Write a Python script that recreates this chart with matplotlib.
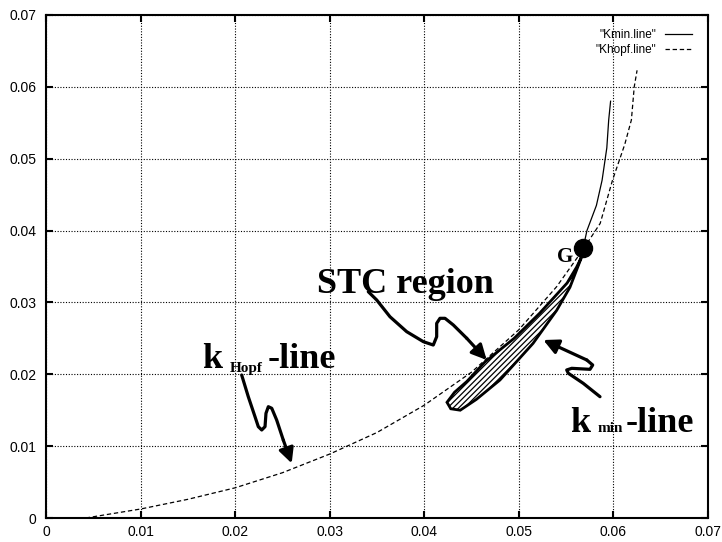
import matplotlib.pyplot as plt
from matplotlib.patches import Polygon

# Kurvendaten
khopf_x = [0.0042, 0.010, 0.015, 0.020, 0.025, 0.030, 0.035, 0.040, 0.045,
           0.050, 0.054, 0.0567, 0.0586, 0.0599, 0.0612, 0.0619, 0.0622, 0.0625]
khopf_y = [0.0000, 0.00125, 0.0026, 0.0042, 0.0063, 0.0089, 0.0119, 0.0157, 0.0203,
           0.0262, 0.0322, 0.0372, 0.0410, 0.0470, 0.0520, 0.0554, 0.0600, 0.0623]

kmin_x = [0.0445, 0.0464, 0.0495, 0.0522, 0.0551, 0.0561, 0.0567, 0.0572, 0.0582,
          0.0588, 0.0593, 0.0595, 0.0597]
kmin_y = [0.0190, 0.0217, 0.0250, 0.0285, 0.0327, 0.0349, 0.0370, 0.0400, 0.0435,
          0.0470, 0.0515, 0.0554, 0.0580]

# STC Bereich (Umriss)
stc_x = [0.0424, 0.0432, 0.0445, 0.0464, 0.0495, 0.0522, 0.0551, 0.0561, 0.0566,
         0.0554, 0.0540, 0.0515, 0.0480, 0.0455, 0.0438, 0.0428]
stc_y = [0.0161, 0.0175, 0.0190, 0.0217, 0.0250, 0.0285, 0.0327, 0.0349, 0.0362,
         0.0321, 0.0289, 0.0243, 0.0192, 0.0165, 0.0150, 0.0152]

G_x, G_y = 0.0568, 0.0376

# Pfeile
arr_stc_x = [0.03408, 0.03497, 0.03637, 0.03814, 0.03990, 0.04095, 0.04131, 0.04131,
             0.04166, 0.04219, 0.04307, 0.04449, 0.04660]
arr_stc_y = [0.03149, 0.03034, 0.02801, 0.02593, 0.02454, 0.02407, 0.02523, 0.02709,
             0.02779, 0.02779, 0.02686, 0.02501, 0.02199]
arr_min_x = [0.05858, 0.05681, 0.05523, 0.05506, 0.05559, 0.05752, 0.05781, 0.05718, 0.05259]
arr_min_y = [0.01688, 0.01874, 0.02014, 0.02060, 0.02083, 0.02069, 0.02129, 0.02199, 0.02477]
arr_hopf_x = [0.02069, 0.02139, 0.02210, 0.02245, 0.02281, 0.02316, 0.02326, 0.02351,
              0.02387, 0.02439, 0.02509, 0.02598]
arr_hopf_y = [0.01990, 0.01688, 0.01410, 0.01271, 0.01225, 0.01271, 0.01457, 0.01549,
              0.01527, 0.01364, 0.01085, 0.00761]

ticks = [0, 0.01, 0.02, 0.03, 0.04, 0.05, 0.06, 0.07]
tick_labels = ['0', '0.01', '0.02', '0.03', '0.04', '0.05', '0.06', '0.07']

plt.rcParams['font.family'] = 'Liberation Sans'
plt.rcParams['hatch.linewidth'] = 0.9

fig = plt.figure(figsize=(7.22, 5.42), dpi=100)
ax = fig.add_axes([46/722, 24/542, 662/722, 503/542])

ax.plot(kmin_x, kmin_y, 'k-', lw=0.9, label='"Kmin.line"')
ax.plot(khopf_x, khopf_y, 'k', lw=0.9, ls=(0, (3.5, 2.2)), label='"Khopf.line"')

ax.add_patch(Polygon(list(zip(stc_x, stc_y)), closed=True, facecolor='white',
                     edgecolor='black', lw=2.0, hatch='//////', zorder=3))
ax.plot(G_x, G_y, 'o', color='black', ms=13, zorder=4)

for xs, ys in [(arr_stc_x, arr_stc_y), (arr_min_x, arr_min_y), (arr_hopf_x, arr_hopf_y)]:
    ax.plot(xs[:-1], ys[:-1], 'k-', lw=2.3, solid_capstyle='round', solid_joinstyle='round', zorder=5)
    ax.annotate('', xy=(xs[-1], ys[-1]), xytext=(xs[-2], ys[-2]),
                arrowprops=dict(arrowstyle='-|>,head_length=0.9,head_width=0.45', lw=2.3,
                                color='k', shrinkA=0, shrinkB=0), zorder=5)

serif = dict(family='Liberation Serif', weight='bold', color='black', va='baseline', ha='left')
ax.text(0.02866, 0.03131, 'STC region', fontsize=26, **serif)
ax.text(0.05403, 0.03562, 'G', fontsize=15, **serif)
ax.text(0.01650, 0.02087, 'k', fontsize=26, **serif)
ax.text(0.01946, 0.02032, 'Hopf', fontsize=11, **serif)
ax.text(0.02347, 0.02087, '-line', fontsize=26, **serif)
ax.text(0.05541, 0.01197, 'k', fontsize=26, **serif)
ax.text(0.05837, 0.01197, 'min', fontsize=11, **serif)
ax.text(0.06133, 0.01197, '-line', fontsize=26, **serif)

ax.set_xlim(0, 0.07)
ax.set_ylim(0, 0.07)
ax.set_xticks(ticks)
ax.set_xticklabels(tick_labels)
ax.set_yticks(ticks)
ax.set_yticklabels(tick_labels)
ax.tick_params(direction='in', length=5, width=1.5, labelsize=10, top=True, right=True)
ax.tick_params(axis='x', pad=5)
ax.tick_params(axis='y', pad=7)
ax.grid(True, color='black', lw=0.8, ls=(0, (1, 1.5)))
for s in ax.spines.values():
    s.set_linewidth(1.5)

ax.legend(loc='upper right', bbox_to_anchor=(646/662, 489/503), frameon=False,
          markerfirst=False, fontsize=8.5, handlelength=2.3, handletextpad=0.7,
          labelspacing=0.25, borderpad=0, borderaxespad=0)

plt.savefig('out.png', dpi=100)
